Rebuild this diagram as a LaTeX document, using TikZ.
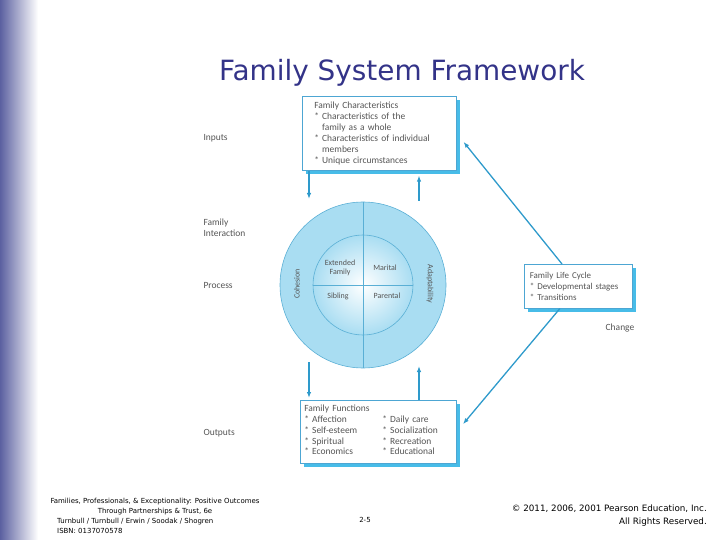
\documentclass[tikz,border=0pt]{standalone}
\usepackage{fontspec}
\setmainfont{Carlito}
\newfontfamily\slidefont{DejaVu Sans}
\usetikzlibrary{positioning,arrows.meta,calc,shadows}
\definecolor{BarBlue}{HTML}{5B60A0}
\definecolor{TitleBlue}{HTML}{333388}
\definecolor{LinkBlue}{HTML}{2E9ACB}
\definecolor{BoxLine}{HTML}{4DA6D3}
\definecolor{ShadowCyan}{HTML}{33B5E5}
\definecolor{RingBlue}{HTML}{A9DDF2}
\definecolor{RingLine}{HTML}{5AAFD5}
\definecolor{LabelGray}{HTML}{555555}
\tikzset{
  panel/.style={draw=BoxLine, line width=0.6bp, fill=white, anchor=north west,
                align=left, inner ysep=0bp, text=LabelGray,
                font=\fontsize{9.5}{11}\selectfont,
                drop shadow={shadow xshift=4bp, shadow yshift=-4bp,
                             fill=ShadowCyan, opacity=0.9}},
  sidelabel/.style={anchor=west, align=left, text=LabelGray,
                    font=\fontsize{9.5}{11}\selectfont},
  ringlabel/.style={text=LabelGray, align=center, font=\fontsize{8}{9}\selectfont},
  flow/.style={-{Latex[length=6bp,width=4.5bp]}, line width=1.3bp, LinkBlue},
  footer/.style={font=\slidefont\fontsize{7}{10}\selectfont, inner sep=0bp},
}
\begin{document}
\begin{tikzpicture}[x=1bp, y=-1bp]
  \useasboundingbox (0,0) rectangle (720,540);
  \shade[left color=BarBlue, right color=white] (0,0) rectangle (38,540);

  \node[font=\slidefont\fontsize{28}{30}\selectfont, text=TitleBlue] (title) at (402,73) {Family System Framework};

  % boxes
  \node[panel, text width=130bp, inner xsep=12bp, minimum height=74bp] (chars) at (302,96)
    {Family Characteristics\\
     {*} Characteristics of the\\
     \phantom{* }family as a whole\\
     {*} Characteristics of individual\\
     \phantom{* }members\\
     {*} Unique circumstances};
  \node[panel, text width=148bp, inner xsep=4bp, minimum height=63bp] (funcs) at (300,400)
    {Family Functions\\
     \begin{tabular}{@{}p{78bp}@{}l@{}}
     {*} Affection & {*} Daily care\\
     {*} Self-esteem & {*} Socialization\\
     {*} Spiritual & {*} Recreation\\
     {*} Economics & {*} Educational
     \end{tabular}};
  \node[panel, text width=97bp, inner xsep=5.5bp, minimum height=44bp,
        font=\fontsize{9}{11}\selectfont] (cycle) at (524,264)
    {Family Life Cycle\\
     {*} Developmental stages\\
     {*} Transitions};

  % circle
  \node[circle, draw=RingLine, fill=RingBlue, line width=0.6bp, minimum size=166bp, inner sep=0bp] (outer) at (363,285) {};
  \node[circle, draw=RingLine, shade, inner color=white, outer color=RingBlue, line width=0.6bp, minimum size=100bp, inner sep=0bp] (inner) at (outer.center) {};
  \draw[RingLine, line width=0.6bp] (outer.north) -- (outer.south);
  \draw[RingLine, line width=0.6bp] (inner.west) -- (inner.east);
  \node[ringlabel] (ext) at (340,268) {Extended\\Family};
  \node[ringlabel] (mar) at (385,268) {Marital};
  \node[ringlabel] (sib) at (338,296) {Sibling};
  \node[ringlabel] (par) at (387,296) {Parental};
  \node[ringlabel, rotate=90] (coh) at (297,284) {Cohesion};
  \node[ringlabel, rotate=-90] (ada) at (430,284) {Adaptability};

  % labels on the left
  \node[sidelabel] (inputs) at (200,138) {Inputs};
  \node[sidelabel] (interact) at (200,228) {Family\\Interaction};
  \node[sidelabel] (process) at (200,285) {Process};
  \node[sidelabel] (outputs) at (200,433) {Outputs};
  \node[sidelabel, anchor=center] (change) at (620,328) {Change};

  % connectors
  \coordinate (inend) at (309,199);
  \coordinate (fbstart) at (419,201);
  \coordinate (outstart) at (309,362);
  \coordinate (outfb) at (419,366);
  \draw[flow] (chars.south -| inend) -- (inend);
  \draw[flow, shorten >=5bp] (fbstart) -- (chars.south -| fbstart);
  \draw[flow, shorten >=2bp] (outstart) -- (funcs.north -| outstart);
  \draw[flow] (funcs.north -| outfb) -- (outfb);
  \coordinate (cycletop) at ($(cycle.north west)!0.35!(cycle.north east)$);
  \coordinate (cyclebot) at ($(cycle.south west)!0.33!(cycle.south east)$);
  \draw[flow, shorten >=11bp] (cycletop) -- (chars.east);
  \draw[flow, shorten >=10bp] (cyclebot) -- (funcs.east);

  % footer
  \node[footer, align=center, anchor=north] (book) at (155,498)
    {Families, Professionals, \& Exceptionality: Positive Outcomes\\Through Partnerships \& Trust, 6e};
  \node[footer, align=left, anchor=north west] (authors) at (57,518)
    {Turnbull / Turnbull / Erwin / Soodak / Shogren\\ISBN: 0137070578};
  \node[footer, font=\slidefont\fontsize{7}{10}\selectfont] (page) at (365,520) {2-5};
  \node[footer, align=right, anchor=north east, font=\slidefont\fontsize{8.8}{13}\selectfont] (copy) at (707,505)
    {© 2011, 2006, 2001 Pearson Education, Inc.\\All Rights Reserved.};
\end{tikzpicture}
\end{document}
